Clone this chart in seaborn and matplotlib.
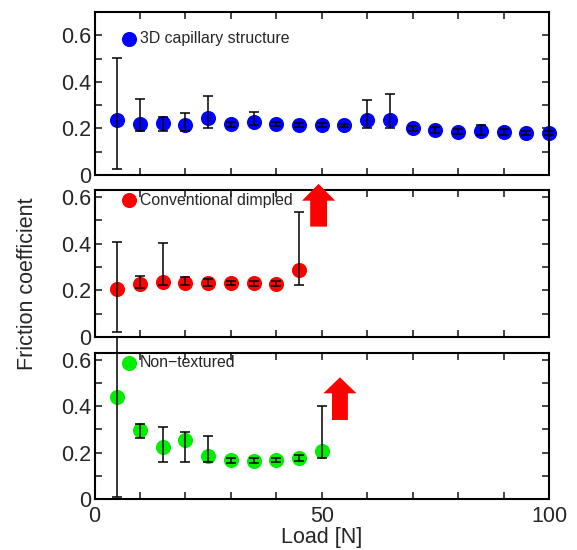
import numpy as np
import pandas as pd
import matplotlib
matplotlib.use('Agg')
import matplotlib.pyplot as plt
import seaborn as sns
from matplotlib.ticker import MultipleLocator

# 3D capillary structure
load_3d = [5, 10, 15, 20, 25, 30, 35, 40, 45, 50, 55, 60, 65, 70, 75, 80, 85, 90, 95, 100]
mu_3d = [0.236, 0.219, 0.222, 0.216, 0.243, 0.219, 0.229, 0.219, 0.215, 0.215,
         0.213, 0.236, 0.236, 0.200, 0.193, 0.186, 0.190, 0.183, 0.179, 0.179]
hi_3d = [0.501, 0.325, 0.250, 0.267, 0.339, 0.229, 0.269, 0.227, 0.224, 0.224,
         0.220, 0.322, 0.349, 0.210, 0.205, 0.196, 0.213, 0.196, 0.188, 0.188]
lo_3d = [0.024, 0.191, 0.190, 0.190, 0.200, 0.205, 0.215, 0.210, 0.207, 0.206,
         0.205, 0.203, 0.200, 0.190, 0.182, 0.176, 0.170, 0.172, 0.173, 0.172]

# Conventional dimpled
load_dim = [5, 10, 15, 20, 25, 30, 35, 40, 45]
mu_dim = [0.204, 0.226, 0.237, 0.230, 0.231, 0.230, 0.230, 0.228, 0.287]
hi_dim = [0.406, 0.263, 0.402, 0.258, 0.248, 0.238, 0.240, 0.240, 0.534]
lo_dim = [0.023, 0.209, 0.223, 0.223, 0.219, 0.222, 0.220, 0.218, 0.223]

# Non-textured
load_non = [5, 10, 15, 20, 25, 30, 35, 40, 45, 50]
mu_non = [0.439, 0.298, 0.226, 0.255, 0.187, 0.167, 0.165, 0.168, 0.178, 0.208]
hi_non = [0.900, 0.322, 0.312, 0.290, 0.273, 0.177, 0.176, 0.178, 0.189, 0.401]
lo_non = [0.010, 0.262, 0.161, 0.161, 0.161, 0.157, 0.155, 0.158, 0.166, 0.176]

ytick_vals = [0, 0.2, 0.4, 0.6]
ytick_labels = ['0', '0.2', '0.4', '0.6']
xtick_vals = [0, 10, 20, 30, 40, 50, 60, 70, 80, 90, 100]
xtick_labels = ['0', '', '', '', '', '50', '', '', '', '', '100']

sns.set_style('ticks')
plt.rcParams['font.family'] = ['Liberation Sans', 'DejaVu Sans']

fig = plt.figure(figsize=(5.77, 5.5), dpi=100)
ax1 = fig.add_axes([0.1638, 0.6818, 0.7877, 0.2964])
ax2 = fig.add_axes([0.1638, 0.3873, 0.7877, 0.2673])
ax3 = fig.add_axes([0.1638, 0.0927, 0.7877, 0.2655])
ax2.set_zorder(3)
ax1.set_zorder(4)
ax3.set_zorder(1)

panels = [
    (ax1, load_3d, mu_3d, lo_3d, hi_3d, '#0000ff', '3D capillary structure', 0.7),
    (ax2, load_dim, mu_dim, lo_dim, hi_dim, '#ff0000', 'Conventional dimpled', 0.63),
    (ax3, load_non, mu_non, lo_non, hi_non, '#00ee00', 'Non\u2212textured', 0.63),
]

for ax, x, mu, lo, hi, col, name, ytop in panels:
    df = pd.DataFrame({'load': x, 'mu': mu, 'lo': lo, 'hi': hi})
    sns.scatterplot(data=df, x='load', y='mu', ax=ax, color=col, s=118,
                    linewidth=0, label=name, zorder=2, clip_on=False)
    eb = ax.errorbar(df['load'], df['mu'],
                     yerr=[df['mu'] - df['lo'], df['hi'] - df['mu']],
                     fmt='none', ecolor='black', elinewidth=1.1,
                     capsize=3.5, capthick=1.1, zorder=3)
    for art in eb.get_children():
        art.set_clip_on(False)
    ax.set_xlim(0, 100)
    ax.set_ylim(0, ytop)
    ax.set_xticks(xtick_vals)
    ax.set_yticks(ytick_vals)
    ax.set_yticklabels(ytick_labels)
    ax.yaxis.set_minor_locator(MultipleLocator(0.1))
    ax.tick_params(which='both', direction='in', top=True, right=True,
                   length=5, width=1.2, labelsize=15.5, pad=2.5)
    ax.tick_params(axis='x', pad=5)
    for sp in ax.spines.values():
        sp.set_linewidth(1.5)
        sp.set_color('black')
    ax.set_xlabel('')
    ax.set_ylabel('')
    ax.legend(loc='center left', bbox_to_anchor=(5.9, 0.587),
              bbox_transform=ax.transData, frameon=False, handlelength=1.0,
              handletextpad=0.15, borderpad=0, borderaxespad=0, fontsize=11.4)

ax1.set_xticklabels([])
ax2.set_xticklabels([])
ax3.set_xticklabels(xtick_labels)
ax3.set_xlabel('Load [N]', fontsize=15.5, labelpad=0)

# 빨간 화살표
ax2.arrow(49.3, 0.473, 0, 0.183, width=3.7, head_width=7.3, head_length=0.072,
          length_includes_head=True, color='#ff0000', linewidth=0, clip_on=False, zorder=4)
ax3.arrow(54, 0.341, 0, 0.184, width=3.5, head_width=7.3, head_length=0.069,
          length_includes_head=True, color='#ff0000', linewidth=0, clip_on=False, zorder=4)

fig.text(0.047, 0.484, 'Friction coefficient', rotation=90, va='center',
         ha='center', fontsize=15.5)

fig.savefig('out.png', dpi=100)
